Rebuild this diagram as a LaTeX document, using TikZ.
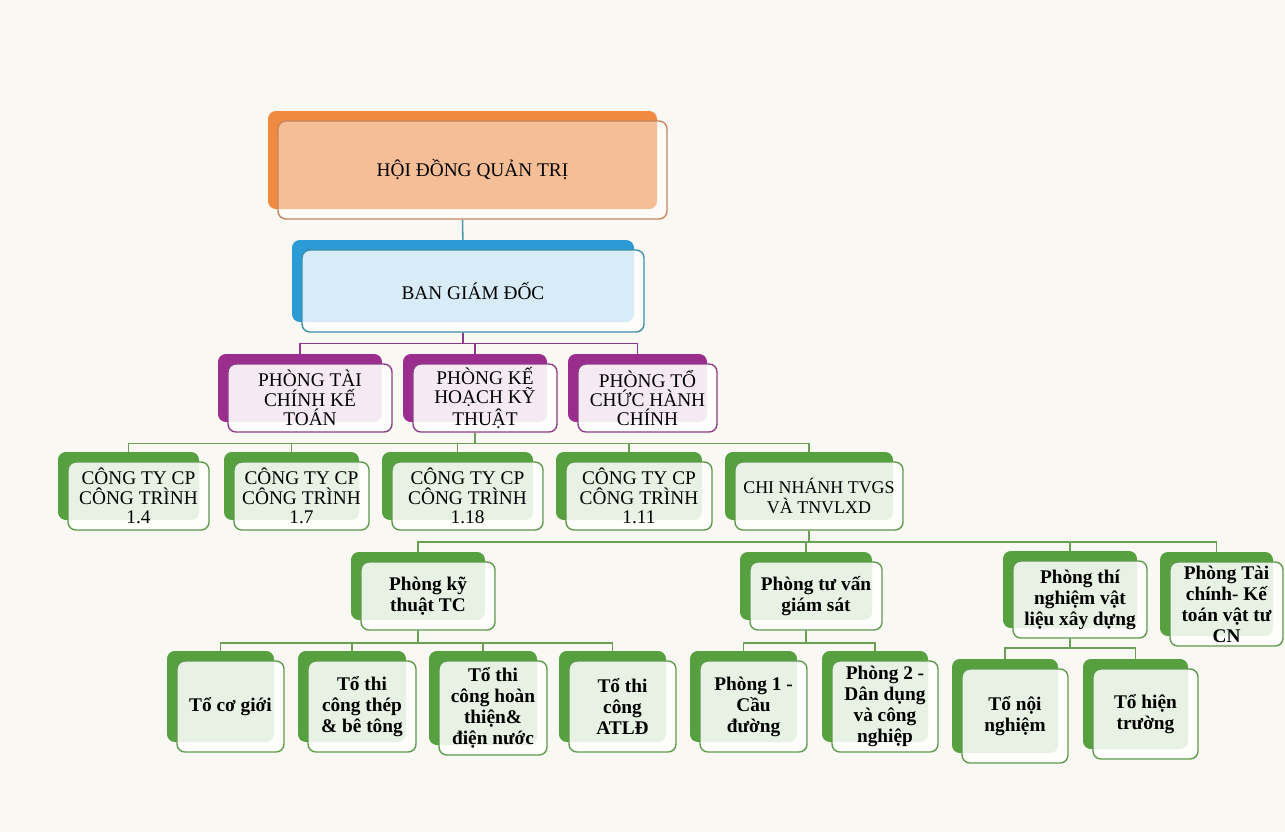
\documentclass[tikz,border=0pt]{standalone}
\usepackage{fontspec}
\setmainfont{Liberation Serif}
\usetikzlibrary{shadows}
\usepackage{xcolor}

\definecolor{paper}{HTML}{FAF8F2}
\definecolor{orback}{HTML}{F08A40}
\definecolor{ordraw}{HTML}{C8835E}
\definecolor{blback}{HTML}{2C9AD5}
\definecolor{bldraw}{HTML}{3A8EA8}
\definecolor{puback}{HTML}{9B2D8E}
\definecolor{pudraw}{HTML}{8C3D85}
\definecolor{grback}{HTML}{56A040}
\definecolor{grdraw}{HTML}{5E9A4C}
\definecolor{tealline}{HTML}{4D9AAA}
\definecolor{puline}{HTML}{8E3A8A}
\definecolor{grline}{HTML}{6AA056}

\pgfdeclarelayer{paperlayer}
\pgfdeclarelayer{linklayer}
\pgfsetlayers{paperlayer,linklayer,main}

\tikzset{
  unit/.style 2 args={minimum width=#1*0.02cm, minimum height=#2*0.02cm},
  card/.style={draw=#1, line width=0.8pt, rounded corners=4.5pt, inner sep=1.5pt,
    align=center, fill=white, text opacity=1,
    font=\fontsize{11}{11}\selectfont},
  backcard/.style={general shadow={shadow xshift=-0.2cm, shadow yshift=0.2cm,
    fill=#1, fill opacity=1}},
  orcard/.style={card=ordraw, fill opacity=0.45, backcard=orback},
  blcard/.style={card=bldraw, fill opacity=0.82, backcard=blback},
  pucard/.style={card=pudraw, fill opacity=0.9, backcard=puback},
  grcard/.style={card=grdraw, fill opacity=0.86, backcard=grback},
  grbold/.style={grcard, font=\fontsize{11}{12}\selectfont\bfseries},
  link/.style={line width=0.9pt, draw=#1}
}

\begin{document}
\begin{tikzpicture}[x=0.02cm, y=-0.02cm]
\begin{pgfonlayer}{paperlayer}
\fill[paper] (0,0) rectangle (1285,832);
\end{pgfonlayer}

% top
\node[orcard, unit={389}{98}] (hdqt) at (472.5,170) {HỘI ĐỒNG QUẢN TRỊ};
\node[blcard, unit={342}{82}] (bgd) at (473,291) {BAN GIÁM ĐỐC};

% phong ban
\node[pucard, unit={164}{68}] (ptckt) at (310,398) {PHÒNG TÀI\\CHÍNH KẾ\\TOÁN};
\node[pucard, unit={144}{68}] (pkhkt) at (485,398) {PHÒNG KẾ\\HOẠCH KỸ\\THUẬT};
\node[pucard, unit={139}{68}] (ptchc) at (647.5,398) {PHÒNG TỔ\\CHỨC HÀNH\\CHÍNH};

% cong ty
\node[grcard, unit={141}{68}] (c14) at (138.5,496) {CÔNG TY CP\\CÔNG TRÌNH\\1.4};
\node[grcard, unit={135}{68}] (c17) at (301.5,496) {CÔNG TY CP\\CÔNG TRÌNH\\1.7};
\node[grcard, unit={151}{68}] (c118) at (467.5,496) {CÔNG TY CP\\CÔNG TRÌNH\\1.18};
\node[grcard, unit={146}{68}] (c111) at (639,496) {CÔNG TY CP\\CÔNG TRÌNH\\1.11};
\node[grcard, unit={168}{68}, font=\fontsize{10.2}{11}\selectfont] (cn) at (819,496) {CHI NHÁNH TVGS\\VÀ TNVLXD};

% chi nhanh
\node[grbold, unit={134}{68}] (pkttc) at (428,596) {Phòng kỹ\\thuật TC};
\node[grbold, unit={132}{68}] (ptvgs) at (816,596) {Phòng tư vấn\\giám sát};
\node[grbold, unit={134}{77}] (ptn) at (1080,599.5) {Phòng thí\\nghiệm vật\\liệu xây dựng};
\node[grbold, unit={113}{84}, inner sep=0.5pt] (ptcvt) at (1226.5,604) {Phòng Tài\\chính- Kế\\toán vật tư\\CN};

% to, phong
\node[grbold, unit={107}{91}] (tcg) at (230.5,706.5) {Tổ cơ giới};
\node[grbold, unit={108}{91}] (ttbt) at (362,706.5) {Tổ thi\\công thép\\\& bê tông};
\node[grbold, unit={108}{94}] (thdn) at (493,708) {Tổ thi\\công hoàn\\thiện\&\\điện nước};
\node[grbold, unit={107}{91}] (tatld) at (622.5,706.5) {Tổ thi\\công\\ATLĐ};
\node[grbold, unit={107}{91}] (p1) at (753.5,706.5) {Phòng 1 -\\Cầu\\đường};
\node[grbold, unit={106}{91}] (p2) at (885,706.5) {Phòng 2 -\\Dân dụng\\và công\\nghiệp};
\node[grbold, unit={106}{94}] (tnn) at (1015,716) {Tổ nội\\nghiệm};
\node[grbold, unit={105}{90}] (tht) at (1145.5,714) {Tổ hiện\\trường};

% connectors
\begin{pgfonlayer}{linklayer}
\draw[link=tealline] ([xshift=-2mm]hdqt.south) -- ([xshift=-2mm]bgd.north);
\coordinate (bus0) at ([shift={(-10,11)}]bgd.south);
\draw[link=puline] ([xshift=-2mm]bgd.south) -- (bus0);
\foreach \c in {ptckt,pkhkt,ptchc}
  \draw[link=puline] ([xshift=-2mm]\c.north) |- (bus0);
\coordinate (bus1) at ([shift={(-10,11)}]pkhkt.south);
\draw[link=grline] ([xshift=-2mm]pkhkt.south) -- (bus1);
\foreach \c in {c14,c17,c118,c111,cn}
  \draw[link=grline] ([xshift=-2mm]\c.north) |- (bus1);
\coordinate (bus2) at ([shift={(-10,11)}]cn.south);
\draw[link=grline] ([xshift=-2mm]cn.south) -- (bus2);
\foreach \c in {pkttc,ptvgs,ptn,ptcvt}
  \draw[link=grline] ([xshift=-2mm]\c.north) |- (bus2);
\coordinate (bus3) at ([shift={(-10,12)}]pkttc.south);
\draw[link=grline] ([xshift=-2mm]pkttc.south) -- (bus3);
\foreach \c in {tcg,ttbt,thdn,tatld}
  \draw[link=grline] ([xshift=-2mm]\c.north) |- (bus3);
\coordinate (bus4) at ([shift={(-10,12)}]ptvgs.south);
\draw[link=grline] ([xshift=-2mm]ptvgs.south) -- (bus4);
\foreach \c in {p1,p2}
  \draw[link=grline] ([xshift=-2mm]\c.north) |- (bus4);
\coordinate (bus5) at ([shift={(-10,9)}]ptn.south);
\draw[link=grline] ([xshift=-2mm]ptn.south) -- (bus5);
\foreach \c in {tnn,tht}
  \draw[link=grline] ([xshift=-2mm]\c.north) |- (bus5);
\end{pgfonlayer}
\end{tikzpicture}
\end{document}
